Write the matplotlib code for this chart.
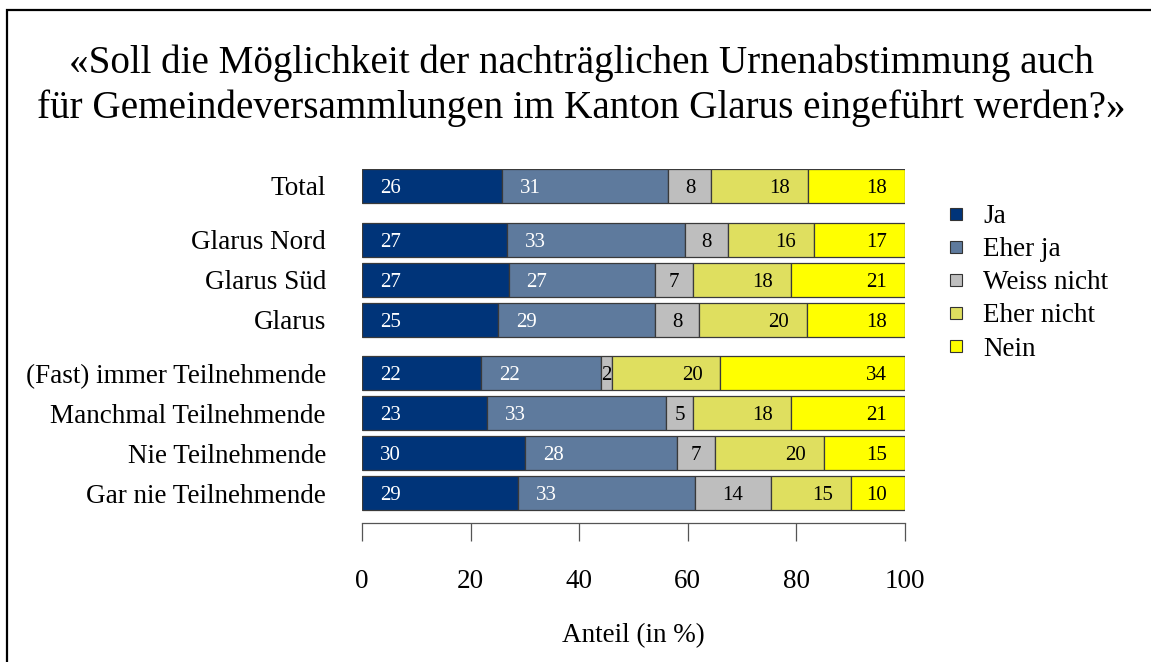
import matplotlib
matplotlib.use("Agg")
import matplotlib.pyplot as plt
from matplotlib.lines import Line2D
from matplotlib.patches import Rectangle
import numpy as np

plt.rcParams['font.family'] = ['Liberation Serif', 'DejaVu Serif']

# ---- data ----
categories = ["Total", "Glarus Nord", "Glarus Süd", "Glarus",
              "(Fast) immer Teilnehmende", "Manchmal Teilnehmende",
              "Nie Teilnehmende", "Gar nie Teilnehmende"]
series_names = ["Ja", "Eher ja", "Weiss nicht", "Eher nicht", "Nein"]
ja = [26, 27, 27, 25, 22, 23, 30, 29]
eher_ja = [31, 33, 27, 29, 22, 33, 28, 33]
weiss_nicht = [8, 8, 7, 8, 2, 5, 7, 14]
eher_nicht = [18, 16, 18, 20, 20, 18, 20, 15]
nein = [18, 17, 21, 18, 34, 21, 15, 10]
xticks = [0, 20, 40, 60, 80, 100]
title = ("«Soll die Möglichkeit der nachträglichen Urnenabstimmung auch\n"
         "für Gemeindeversammlungen im Kanton Glarus eingeführt werden?»")
xlabel = "Anteil (in %)"

# ---- style ----
colors = ["#003479", "#5E7A9D", "#BEBEBE", "#DFDF5F", "#FFFF00"]
text_colors = ["white", "white", "black", "black", "black"]
align = ["left", "left", "center", "right", "right"]
ypos = np.array([0, 1.35, 2.35, 3.35, 4.7, 5.7, 6.7, 7.7])

W, H = 1151, 662
fig = plt.figure(figsize=(W / 100, H / 100), dpi=100)
ax_left, ax_right = 362, 905
ax_top, ax_bottom = 169, 523
ax = fig.add_axes([ax_left / W, 1 - ax_bottom / H,
                   (ax_right - ax_left) / W, (ax_bottom - ax_top) / H])

data = np.array([ja, eher_ja, weiss_nicht, eher_nicht, nein], dtype=float)
widths = data / data.sum(axis=0) * 100
left = np.zeros(len(categories))
pad = 3.3
for i, name in enumerate(series_names):
    ax.barh(ypos, widths[i], left=left, height=0.85, color=colors[i],
            edgecolor="#3a3a3a", linewidth=0.9, label=name)
    for j in range(len(categories)):
        s, e = left[j], left[j] + widths[i][j]
        if align[i] == "left":
            x, ha = s + pad, "left"
        elif align[i] == "right":
            x, ha = e - pad, "right"
        else:
            x, ha = (s + e) / 2, "center"
        ax.text(x, ypos[j], f"{int(data[i][j])}", ha=ha, va="center_baseline",
                color=text_colors[i], fontsize=15)
    left = left + widths[i]

ax.set_xlim(0, 100)
ax.set_ylim(8.45, -0.425)
ax.set_yticks(ypos)
ax.set_yticklabels(categories, fontsize=19.5)
ax.tick_params(axis="y", length=0, pad=26)
ax.set_xticks(xticks)
ax.set_xticklabels([str(t) for t in xticks], fontsize=19.5)
ax.tick_params(axis="x", direction="out", length=13, width=0.9,
               color="#555555", pad=20)
for sp in ["left", "top", "right"]:
    ax.spines[sp].set_visible(False)
ax.spines["bottom"].set_color("#555555")
ax.spines["bottom"].set_linewidth(0.9)
ax.set_xlabel(xlabel, fontsize=19.5, labelpad=21)

handles = [Line2D([], [], marker="s", ls="", markersize=8,
                  markerfacecolor=c, markeredgecolor="#333333",
                  markeredgewidth=0.8) for c in colors]
fig.legend(handles, series_names, loc="upper left",
           bbox_to_anchor=(945 / W, 1 - 204 / H), frameon=False,
           fontsize=19.5, handlelength=0.8, handletextpad=0.6,
           labelspacing=0.30, borderpad=0, borderaxespad=0)

fig.text(581 / W, 1 - 86 / H, title, ha="center", va="center",
         fontsize=28.2, linespacing=1.27)

fig.patches.append(Rectangle((7.5 / W, -0.1), 1.2, 1.1 - 9.5 / H - 0.0,
                             transform=fig.transFigure, fill=False,
                             edgecolor="black", linewidth=1.6))

fig.savefig("out.png", dpi=100)
